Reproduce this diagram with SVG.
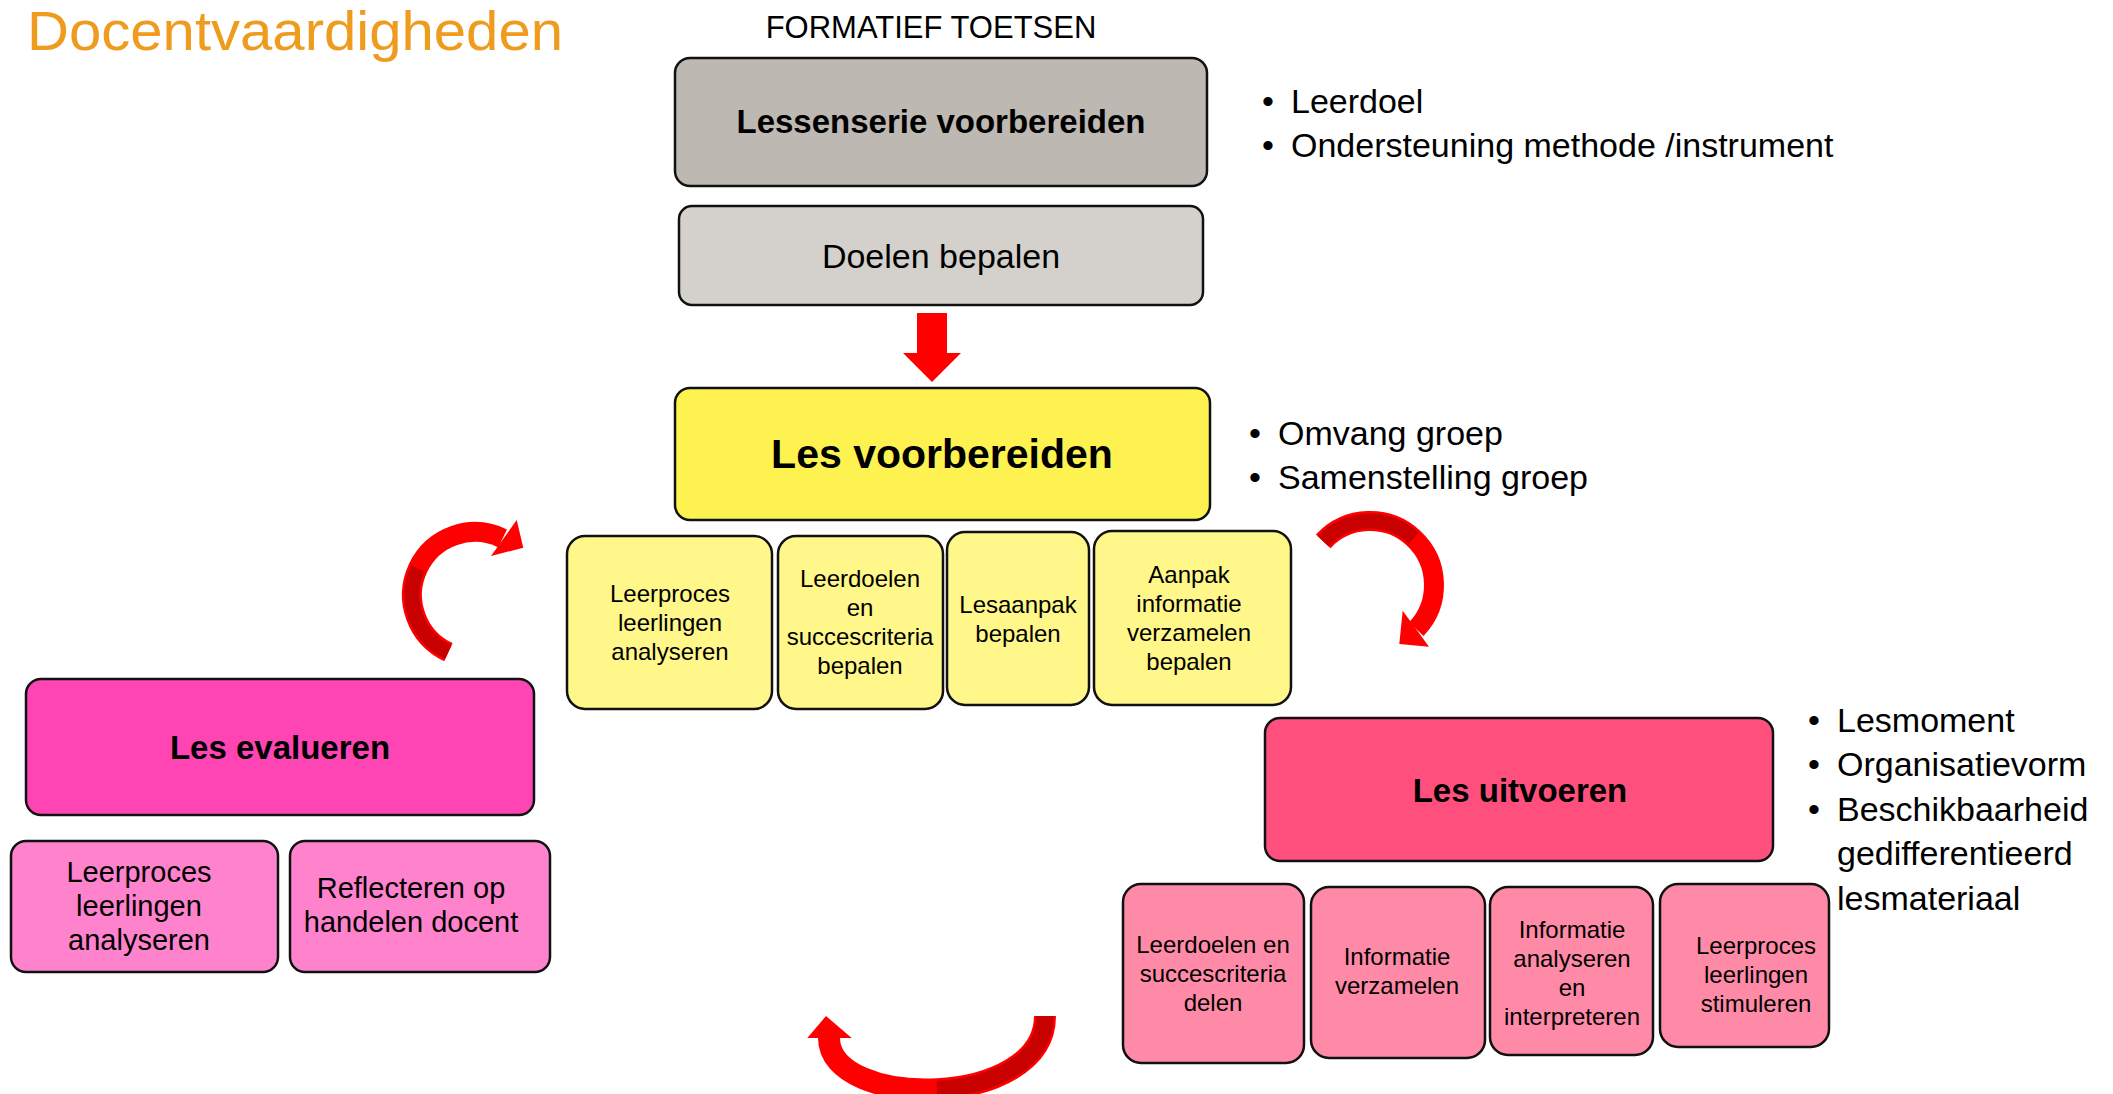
<svg xmlns="http://www.w3.org/2000/svg" width="2113" height="1094" viewBox="0 0 2113 1094">
<style>
  text { font-family: "Liberation Sans", Arial, sans-serif; fill: #000; }
  .box { stroke: #111; stroke-width: 2.5; }
  .c { text-anchor: middle; }
  .b { font-weight: bold; }
  .s24 { font-size: 24px; }
  .s29 { font-size: 29px; }
  .bul { font-size: 34px; }
  .red { fill: #FF0000; }
  .shaft { fill: none; stroke: #FF0000; }
  .dark { fill: none; stroke: #C80000; }
</style>
<rect width="2113" height="1094" fill="#FFFFFF"/>

<text x="27" y="50" font-size="55" textLength="536" lengthAdjust="spacingAndGlyphs" style="fill:#EE9B1E">Docentvaardigheden</text>
<text class="c" x="931" y="38" font-size="31">FORMATIEF TOETSEN</text>

<g id="lessenserie">
  <rect class="box" x="675" y="58" width="532" height="128" rx="15" fill="#BDB8B1"/>
  <text class="c b" x="941" y="133" font-size="33">Lessenserie voorbereiden</text>
</g>
<g id="doelen">
  <rect class="box" x="679" y="206" width="524" height="99" rx="13" fill="#D4D1CC"/>
  <text class="c" x="941" y="268" font-size="34">Doelen bepalen</text>
</g>
<g id="notes-lessenserie">
  <text class="bul" x="1262" y="113">•</text><text class="bul" x="1291" y="113">Leerdoel</text>
  <text class="bul" x="1262" y="157">•</text><text class="bul" x="1291" y="157">Ondersteuning methode /instrument</text>
</g>

<g id="les-voorbereiden">
  <rect class="box" x="675" y="388" width="535" height="132" rx="15" fill="#FDF250"/>
  <text class="c b" x="942" y="468" font-size="41">Les voorbereiden</text>
</g>
<g id="notes-voorbereiden">
  <text class="bul" x="1249" y="445">•</text><text class="bul" x="1278" y="445">Omvang groep</text>
  <text class="bul" x="1249" y="489">•</text><text class="bul" x="1278" y="489">Samenstelling groep</text>
</g>

<g id="y1">
  <rect class="box" x="567" y="536" width="205" height="173" rx="18" fill="#FFF78A"/>
  <text class="c s24" x="670"><tspan x="670" y="602">Leerproces</tspan><tspan x="670" y="631">leerlingen</tspan><tspan x="670" y="660">analyseren</tspan></text>
</g>
<g id="y2">
  <rect class="box" x="778" y="536" width="165" height="173" rx="18" fill="#FFF78A"/>
  <text class="c s24" x="860"><tspan x="860" y="587">Leerdoelen</tspan><tspan x="860" y="616">en</tspan><tspan x="860" y="645">succescriteria</tspan><tspan x="860" y="674">bepalen</tspan></text>
</g>
<g id="y3">
  <rect class="box" x="947" y="532" width="142" height="173" rx="18" fill="#FFF78A"/>
  <text class="c s24" x="1018"><tspan x="1018" y="613">Lesaanpak</tspan><tspan x="1018" y="642">bepalen</tspan></text>
</g>
<g id="y4">
  <rect class="box" x="1094" y="531" width="197" height="174" rx="18" fill="#FFF78A"/>
  <text class="c s24" x="1189"><tspan x="1189" y="583">Aanpak</tspan><tspan x="1189" y="612">informatie</tspan><tspan x="1189" y="641">verzamelen</tspan><tspan x="1189" y="670">bepalen</tspan></text>
</g>

<g id="les-evalueren">
  <rect class="box" x="26" y="679" width="508" height="136" rx="15" fill="#FF45B4"/>
  <text class="c b" x="280" y="759" font-size="33">Les evalueren</text>
</g>
<g id="p1">
  <rect class="box" x="11" y="841" width="267" height="131" rx="15" fill="#FF82CD"/>
  <text class="c s29" x="139"><tspan x="139" y="882">Leerproces</tspan><tspan x="139" y="916">leerlingen</tspan><tspan x="139" y="950">analyseren</tspan></text>
</g>
<g id="p2">
  <rect class="box" x="290" y="841" width="260" height="131" rx="15" fill="#FF82CD"/>
  <text class="c s29" x="411"><tspan x="411" y="898">Reflecteren op</tspan><tspan x="411" y="932">handelen docent</tspan></text>
</g>

<g id="les-uitvoeren">
  <rect class="box" x="1265" y="718" width="508" height="143" rx="15" fill="#FF4F7D"/>
  <text class="c b" x="1520" y="802" font-size="33">Les uitvoeren</text>
</g>
<g id="notes-uitvoeren">
  <text class="bul" x="1808" y="732">•</text><text class="bul" x="1837" y="732">Lesmoment</text>
  <text class="bul" x="1808" y="776">•</text><text class="bul" x="1837" y="776">Organisatievorm</text>
  <text class="bul" x="1808" y="821">•</text><text class="bul" x="1837" y="821">Beschikbaarheid</text>
  <text class="bul" x="1837" y="865">gedifferentieerd</text>
  <text class="bul" x="1837" y="910">lesmateriaal</text>
</g>

<g id="r1">
  <rect class="box" x="1123" y="884" width="181" height="179" rx="18" fill="#FF8AA7"/>
  <text class="c s24" x="1213"><tspan x="1213" y="953">Leerdoelen en</tspan><tspan x="1213" y="982">succescriteria</tspan><tspan x="1213" y="1011">delen</tspan></text>
</g>
<g id="r2">
  <rect class="box" x="1311" y="887" width="174" height="171" rx="18" fill="#FF8AA7"/>
  <text class="c s24" x="1397"><tspan x="1397" y="965">Informatie</tspan><tspan x="1397" y="994">verzamelen</tspan></text>
</g>
<g id="r3">
  <rect class="box" x="1490" y="887" width="163" height="168" rx="18" fill="#FF8AA7"/>
  <text class="c s24" x="1572"><tspan x="1572" y="938">Informatie</tspan><tspan x="1572" y="967">analyseren</tspan><tspan x="1572" y="996">en</tspan><tspan x="1572" y="1025">interpreteren</tspan></text>
</g>
<g id="r4">
  <rect class="box" x="1660" y="884" width="169" height="163" rx="18" fill="#FF8AA7"/>
  <text class="c s24" x="1756"><tspan x="1756" y="954">Leerproces</tspan><tspan x="1756" y="983">leerlingen</tspan><tspan x="1756" y="1012">stimuleren</tspan></text>
</g>

<g id="connectors">
  <polygon class="red" points="917,313 947,313 947,353 961,353 932,382 903,353 917,353"/>

  <path class="shaft" stroke-width="20" d="M448.4,652.1 A63,63 0 0 1 417.9,568.4 A63,63 0 0 1 502.6,538.4"/>
  <path class="dark" stroke-width="15" d="M448.4,652.1 A63,63 0 0 1 417.9,568.4"/>
  <polygon class="red" points="516.7,520 523.3,547.7 491,556"/>

  <path class="shaft" stroke-width="20" d="M1323.2,541.4 A64,64 0 0 1 1413.6,538.2 A64,64 0 0 1 1416.3,629.2"/>
  <path class="dark" stroke-width="15" d="M1323.2,541.4 A64,64 0 0 1 1413.6,538.2"/>
  <polygon class="red" points="1402.7,610.7 1429,646.7 1399.3,644"/>

  <path class="shaft" stroke-width="22" d="M1045,1016 C1045,1110 829,1110 829,1038"/>
  <path class="dark" stroke-width="17" d="M1045,1016 C1045,1063 991,1086.5 937,1089.25"/>
  <polygon class="red" points="826,1016 851.7,1038 807.3,1038"/>
</g>
</svg>
